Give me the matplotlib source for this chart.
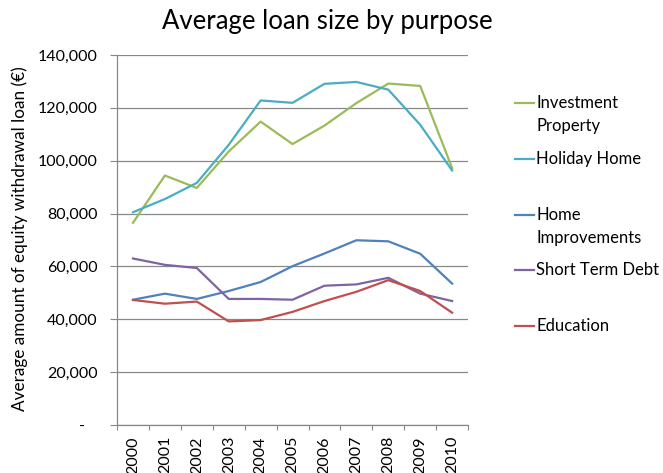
import matplotlib
matplotlib.use("Agg")
import matplotlib.pyplot as plt
from matplotlib.lines import Line2D
from matplotlib.ticker import FuncFormatter, FixedLocator

plt.rcParams['font.family'] = ['Lato', 'DejaVu Sans']

years = ['2000', '2001', '2002', '2003', '2004', '2005', '2006', '2007', '2008', '2009', '2010']

investment_property = [76500, 94400, 89700, 103500, 114800, 106300, 113300, 121800, 129200, 128300, 97200]
holiday_home = [80500, 85500, 91600, 106000, 122800, 121900, 129100, 129800, 126900, 113600, 96300]
home_improvements = [47400, 49700, 47700, 50700, 54100, 60100, 64900, 69900, 69500, 64800, 53500]
short_term_debt = [63000, 60600, 59400, 47700, 47700, 47400, 52700, 53200, 55700, 49700, 46900]
education = [47300, 45900, 46700, 39200, 39700, 42800, 46900, 50400, 54800, 50700, 42500]

series_labels = ['Investment\nProperty', 'Holiday Home', 'Home\nImprovements', 'Short Term Debt', 'Education']
series_colors = ['#9BBB59', '#4BACC6', '#4F81BD', '#8064A2', '#C0504D']
series_values = [investment_property, holiday_home, home_improvements, short_term_debt, education]

W, H = 663, 473
fig = plt.figure(figsize=(W / 100, H / 100), dpi=100)
ax = fig.add_axes([0.1765, 0.1015, 0.5295, 0.7822])

x = list(range(len(years)))
for vals, col in zip(series_values, series_colors):
    ax.plot(x, vals, color=col, lw=1.6, solid_joinstyle='round', zorder=3)

ax.set_xlim(-0.5, len(years) - 0.5)
ax.set_ylim(0, 140000)
ax.set_yticks(range(0, 140001, 20000))
ax.yaxis.set_major_formatter(FuncFormatter(lambda v, p: '-   ' if v == 0 else f'{v:,.0f}'))
ax.grid(axis='y', color='#888888', lw=0.9, zorder=1)
ax.set_axisbelow(True)

# category boundaries carry tick marks, centres carry labels
ax.xaxis.set_major_locator(FixedLocator([i - 0.5 for i in range(len(years) + 1)]))
ax.xaxis.set_major_formatter(FuncFormatter(lambda v, p: ''))
ax.xaxis.set_minor_locator(FixedLocator(x))
ax.set_xticklabels(years, minor=True, rotation=90, fontsize=11.5)
ax.tick_params(axis='x', which='minor', length=0, pad=8)
ax.tick_params(axis='x', which='major', length=3.8, color='#888888', direction='out')
ax.tick_params(axis='y', length=5, color='#888888', labelsize=11.5, pad=9)

for side in ('top', 'right'):
    ax.spines[side].set_visible(False)
for side in ('left', 'bottom'):
    ax.spines[side].set_color('#888888')
    ax.spines[side].set_linewidth(0.9)

fig.text(20 / W, 1 - 239 / H, 'Average amount of equity withdrawal loan (€)',
         rotation=90, ha='center', va='center', fontsize=12.3)
fig.text(327 / W, 1 - 22 / H, 'Average loan size by purpose', ha='center', va='center', fontsize=18.5)

# legend drawn in figure coordinates
legend_y = [103, 159, 215, 270, 326]
for ly, lab, col in zip(legend_y, series_labels, series_colors):
    yf = 1 - ly / H
    fig.add_artist(Line2D([515 / W, 534 / W], [yf, yf], color=col, lw=1.6,
                          transform=fig.transFigure))
    for k, part in enumerate(lab.split('\n')):
        fig.text(536 / W, yf - k * 23 / H, part, ha='left', va='center', fontsize=12)

fig.savefig('out.png', dpi=100)
